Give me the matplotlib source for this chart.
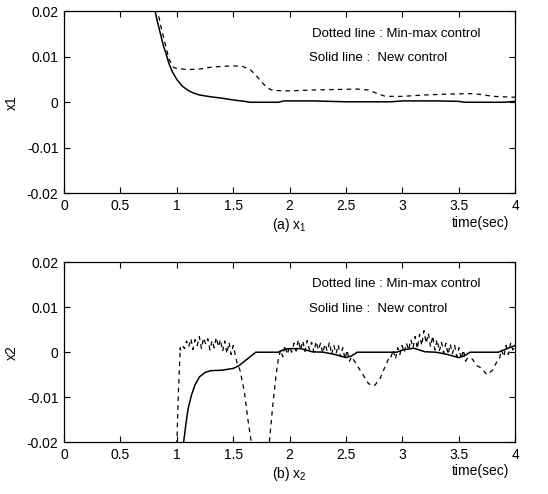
import numpy as np
import matplotlib
matplotlib.use("Agg")
import matplotlib.pyplot as plt

plt.rcParams['font.family'] = ['Liberation Sans', 'DejaVu Sans']
plt.rcParams['mathtext.fontset'] = 'custom'
plt.rcParams['mathtext.rm'] = 'Liberation Sans'
plt.rcParams['mathtext.it'] = 'Liberation Sans'

# ---- Data: x1 (top) ----
x1_new_t = [0.70, 0.78, 0.80, 0.82, 0.85, 0.88, 0.90, 0.93, 0.96, 1.00, 1.05, 1.10, 1.15, 1.20,
            1.30, 1.40, 1.50, 1.60, 1.65, 1.90, 1.95, 2.20, 2.50, 2.90, 3.00, 3.30, 3.50, 3.55,
            3.90, 4.00]
x1_new_v = [0.040, 0.025, 0.021, 0.0185, 0.0155, 0.0125, 0.011, 0.0085, 0.0067, 0.0050, 0.0035,
            0.0026, 0.0020, 0.0016, 0.0012, 0.0009, 0.0005, 0.0002, 0.0, 0.0, 0.0003, 0.0003,
            0.0001, 0.0001, 0.0003, 0.0003, 0.0002, 0.0, 0.0, 0.0002]

x1_mm_t = [0.75, 0.80, 0.83, 0.86, 0.90, 0.93, 0.97, 1.00, 1.10, 1.20, 1.30, 1.40, 1.50, 1.58,
           1.65, 1.70, 1.75, 1.80, 1.85, 2.00, 2.20, 2.40, 2.60, 2.70, 2.78, 2.85, 3.00, 3.20,
           3.40, 3.60, 3.70, 3.80, 4.00]
x1_mm_v = [0.035, 0.026, 0.020, 0.0165, 0.0125, 0.0095, 0.0077, 0.0074, 0.0072, 0.0073, 0.0077,
           0.0079, 0.0080, 0.0079, 0.0072, 0.0060, 0.0045, 0.0032, 0.0026, 0.0025, 0.0027,
           0.0028, 0.0029, 0.0027, 0.0019, 0.0013, 0.0013, 0.0016, 0.0018, 0.0019, 0.0017,
           0.0013, 0.0011]

# ---- Data: x2 (bottom) ----
x2_new_t = [1.02, 1.06, 1.08, 1.10, 1.13, 1.16, 1.20, 1.25, 1.30, 1.40, 1.50, 1.55, 1.60, 1.65,
            1.70, 1.90, 1.95, 2.00, 2.10, 2.20, 2.30, 2.40, 2.50, 2.55, 2.60, 2.95, 3.00, 3.10,
            3.20, 3.30, 3.40, 3.50, 3.55, 3.60, 3.85, 3.90, 4.00]
x2_new_v = [-0.030, -0.020, -0.016, -0.0125, -0.0095, -0.0073, -0.0055, -0.0045, -0.0041,
            -0.0040, -0.0036, -0.0030, -0.0020, -0.0010, 0.0, 0.0, 0.0006, 0.0008, 0.0008,
            0.0001, 0.0, -0.0005, -0.0012, -0.0008, 0.0, 0.0, 0.0005, 0.0009, 0.0001, 0.0,
            -0.0005, -0.0012, -0.0008, 0.0, 0.0, 0.0005, 0.0015]

# min-max control x2: smooth pieces (t, value) and noisy pieces (values in 1e-3 over a span)
mm_rise_t = [0.90, 1.00, 1.015, 1.03]
mm_rise_v = [-0.030, -0.020, -0.008, 0.001]
mm_noiseA_span = (1.03, 1.50)
mm_noiseA = [0.5, 1.5, 0.8, 2.5, 1.2, 3.0, 0.6, 2.8, 1.5, 3.5, 0.8, 3.2, 1.8, 3.0, 0.5, 2.6,
             1.0, 3.3, 1.2, 2.8, 0.2, 2.5, -0.3, 2.2, -0.5, 1.5]
mm_drop_t = [1.53, 1.56, 1.60, 1.63, 1.66, 1.70, 1.78, 1.82, 1.85, 1.88]
mm_drop_v = [-0.002, -0.004, -0.009, -0.015, -0.020, -0.026, -0.026, -0.020, -0.012, -0.005]
mm_noiseB_span = (1.90, 2.55)
mm_noiseB = [-1.5, 0.5, -1.0, 1.5, -0.5, 1.2, 0.0, 2.0, 0.3, 2.8, 0.5, 2.5, 0.2, 2.6, 0.6,
             2.2, 0.0, 2.4, 0.5, 2.0, -0.2, 1.8, 0.3, 2.2, -0.5, 1.5, -0.3, 1.6, -1.0, 1.0,
             -1.5, 0.5, -2.0, -1.0]
mm_dip1_t = [2.60, 2.65, 2.70, 2.75, 2.80, 2.85, 2.89]
mm_dip1_v = [-0.003, -0.005, -0.007, -0.0075, -0.006, -0.003, -0.0008]
mm_noiseC_span = (2.90, 3.58)
mm_noiseC = [-1.0, 0.5, -1.5, 1.0, -0.5, 1.5, 0.0, 2.0, 0.5, 2.8, 1.0, 3.5, 0.8, 4.0, 1.5,
             4.8, 2.0, 4.2, 1.2, 3.6, 0.5, 2.8, 0.2, 2.2, -0.2, 2.0, -0.5, 1.8, -0.3, 1.5,
             -1.0, 1.0, -1.5, 0.5, -2.0, -1.2]
mm_dip2_t = [3.62, 3.66, 3.70, 3.75, 3.80, 3.84]
mm_dip2_v = [-0.0015, -0.003, -0.0035, -0.005, -0.004, -0.002]
mm_noiseD_span = (3.86, 4.00)
mm_noiseD = [-1.5, 0.5, -1.0, 1.5, -0.5, 2.0, 0.5, 1.5]

yticks = [-0.02, -0.01, 0, 0.01, 0.02]
yticklabels = ['-0.02', '-0.01', '0', '0.01', '0.02']
xticks = [0, 0.5, 1, 1.5, 2, 2.5, 3, 3.5, 4]
xticklabels = ['0', '0.5', '1', '1.5', '2', '2.5', '3', '3.5', '4']


def noisy(span, vals):
    t = np.linspace(span[0], span[1], len(vals))
    return list(t), [v * 1e-3 for v in vals]


x2_mm_t, x2_mm_v = [], []
for seg in [(mm_rise_t, mm_rise_v), noisy(mm_noiseA_span, mm_noiseA), (mm_drop_t, mm_drop_v),
            noisy(mm_noiseB_span, mm_noiseB), (mm_dip1_t, mm_dip1_v),
            noisy(mm_noiseC_span, mm_noiseC), (mm_dip2_t, mm_dip2_v),
            noisy(mm_noiseD_span, mm_noiseD)]:
    x2_mm_t += list(seg[0])
    x2_mm_v += list(seg[1])

fig = plt.figure(figsize=(5.48, 4.94), dpi=100)
ax1 = fig.add_axes([0.117, 0.609, 0.823, 0.368])
ax2 = fig.add_axes([0.117, 0.105, 0.823, 0.364])

dash = (0, (3.6, 3.4))
ax1.plot(x1_new_t, x1_new_v, color='black', lw=1.1)
ax1.plot(x1_mm_t, x1_mm_v, color='black', lw=0.9, linestyle=dash)
ax2.plot(x2_new_t, x2_new_v, color='black', lw=1.1)
ax2.plot(x2_mm_t, x2_mm_v, color='black', lw=0.9, linestyle=dash)

fs = 10
for ax, ylab in [(ax1, 'x1'), (ax2, 'x2')]:
    ax.set_xlim(0, 4)
    ax.set_ylim(-0.02, 0.02)
    ax.set_xticks(xticks)
    ax.set_xticklabels(xticklabels, fontsize=fs)
    ax.set_yticks(yticks)
    ax.set_yticklabels(yticklabels, fontsize=fs)
    ax.tick_params(direction='in', top=True, right=True, length=4, width=0.8, pad=4)
    for s in ax.spines.values():
        s.set_linewidth(0.9)
    ax.set_ylabel(ylab, fontsize=fs, labelpad=6)
    ax.text(2.2, 0.0151, 'Dotted line : Min-max control', fontsize=9.5, va='center', ha='left')
    ax.text(2.17, 0.0097, 'Solid line :  New control', fontsize=9.5, va='center', ha='left')
    ax.text(3.95, -0.0265, 'time(sec)', fontsize=fs, ha='right', va='center')

ax1.text(2.0, -0.027, r'(a) x$_{\mathregular{1}}$', fontsize=fs, ha='center', va='center')
ax2.text(2.0, -0.027, r'(b) x$_{\mathregular{2}}$', fontsize=fs, ha='center', va='center')

fig.savefig('out.png', dpi=100)
